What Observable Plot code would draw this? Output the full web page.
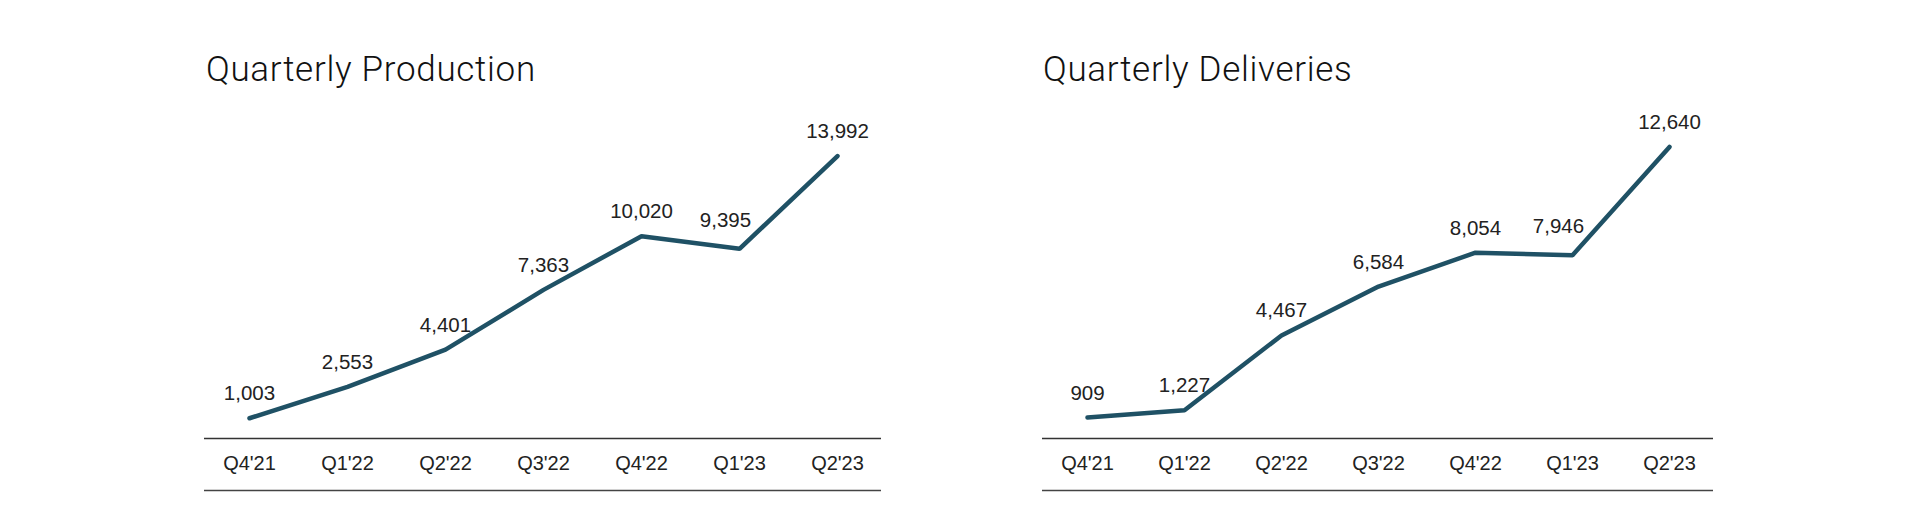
<!DOCTYPE html>
<html>
<head>
<meta charset="utf-8">
<script src="https://cdn.jsdelivr.net/npm/d3@7"></script>
<script src="https://cdn.jsdelivr.net/npm/@observablehq/plot@0.6"></script>
<style>
  html, body { margin: 0; padding: 0; background: #fff; }
  #page { position: relative; width: 1920px; height: 529px; overflow: hidden; }
  .panel { position: absolute; top: 0; }
  .title { position: absolute; font-family: Roboto, "Noto Sans", sans-serif; font-weight: 300; font-size: 35px; line-height: 35px; letter-spacing: 0.7px; color: #111; white-space: nowrap; }
</style>
</head>
<body>
<div id="page"></div>
<script>
const quarters = ["Q4'21", "Q1'22", "Q2'22", "Q3'22", "Q4'22", "Q1'23", "Q2'23"];
const production = [1003, 2553, 4401, 7363, 10020, 9395, 13992];
const deliveries = [909, 1227, 4467, 6584, 8054, 7946, 12640];
const titles = ["Quarterly Production", "Quarterly Deliveries"];
const yMax = [16000, 14000];

const page = document.getElementById("page");
const lineColor = "#1f5165";
const fmt = d3.format(",");

function makeChart(values, title, ymax, left, width, mLeft, mRight, titleLeft) {
  const data = quarters.map((q, i) => ({q, v: values[i]}));
  const normal = data.filter(d => d.q !== "Q1'23");
  const dip = data.filter(d => d.q === "Q1'23");
  const chart = Plot.plot({
    width: width,
    height: 529,
    marginLeft: mLeft,
    marginRight: mRight,
    marginTop: 115,
    marginBottom: 91,
    style: {fontFamily: "'Liberation Sans', Arial, sans-serif", fontSize: "20px", color: "#222", background: "transparent", overflow: "visible"},
    x: {type: "point", domain: quarters, padding: 0.45, label: null},
    y: {domain: [0, ymax], axis: null},
    marks: [
      Plot.axisX({tickSize: 0, tickPadding: 17, fontSize: 20, fill: "#222", label: null}),
      Plot.ruleY([0], {stroke: "#333", strokeWidth: 1.6}),
      Plot.ruleY([0], {stroke: "#444", strokeWidth: 1.6, dy: 52}),
      Plot.line(data, {x: "q", y: "v", stroke: lineColor, strokeWidth: 4.5, strokeLinejoin: "miter", strokeLinecap: "round"}),
      Plot.text(normal, {x: "q", y: "v", text: d => fmt(d.v), lineAnchor: "bottom", dy: -18, fontSize: 20.5, fill: "#222"}),
      Plot.text(dip, {x: "q", y: "v", text: d => fmt(d.v), lineAnchor: "bottom", dy: -22, dx: -14, fontSize: 20.5, fill: "#222"})
    ]
  });
  const wrap = document.createElement("div");
  wrap.className = "panel";
  wrap.style.left = left + "px";
  wrap.appendChild(chart);
  page.appendChild(wrap);
  const t = document.createElement("div");
  t.className = "title";
  t.style.left = titleLeft + "px";
  t.style.top = "52px";
  t.textContent = title;
  page.appendChild(t);
}

makeChart(production, titles[0], yMax[0], 0, 900, 204, 19, 206);
makeChart(deliveries, titles[1], yMax[1], 960, 960, 82, 207, 1043);
</script>
</body>
</html>
